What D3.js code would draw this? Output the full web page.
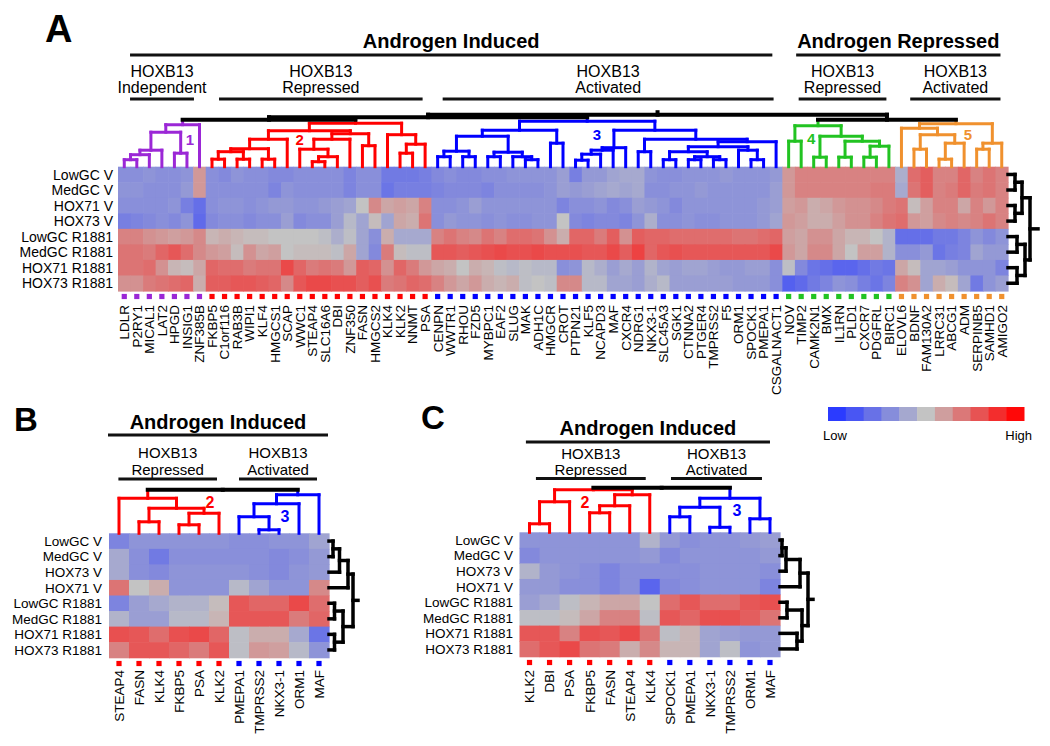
<!DOCTYPE html>
<html>
<head>
<meta charset="utf-8">
<script src="https://cdn.jsdelivr.net/npm/d3@7/dist/d3.min.js"></script>
<style>
html,body{margin:0;padding:0;background:#fff;}
svg{display:block;}
text{font-family:"Liberation Sans",Arial,Helvetica,sans-serif;fill:#000;}
</style>
</head>
<body>
<svg id="chart" width="1050" height="746"></svg>
<script>
// ================= DATA =================
const samplesA = ["LowGC V","MedGC V","HOX71 V","HOX73 V","LowGC R1881","MedGC R1881","HOX71 R1881","HOX73 R1881"];
const samplesBC = ["LowGC V","MedGC V","HOX73 V","HOX71 V","LowGC R1881","MedGC R1881","HOX71 R1881","HOX73 R1881"];

const genesA = ["LDLR","P2RY1","MICAL1","LAT2","HPGD","INSIG1","ZNF385B",
  "FKBP5","C1orf116","RAB3B","WIPI1","KLF4","HMGCS1","SCAP","WWC1","STEAP4","SLC16A6","DBI","ZNF350","FASN","HMGCS2","KLK4","KLK2","NNMT","PSA",
  "CENPN","WWTR1","RHOU","FZD5","MYBPC1","EAF2","SLUG","MAK","ADH1C","HMGCR","CROT","PTPN21","KLF5","NCAPD3","MAF","CXCR4","NDRG1","NKX3-1","SLC45A3","SGK1","CTNNA2","PTGER4","TMPRSS2","F5","ORM1","SPOCK1","PMEPA1","CSGALNACT1",
  "NOV","TIMP2","CAMK2N1","BMX","IL1RN","PLD1","CXCR7","PDGFRL","BIRC1",
  "ELOVL6","BDNF","FAM130A2","LRRC31","ABCG1","ADM","SERPINB5","SAMHD1","AMIGO2"];
const clusterSizesA = [7,18,28,9,9];
const clusterColors = ["#9b27d6","#ff0000","#0000ff","#22c322","#f0912e"];

// expression (row-scaled) per sample row, columns in genesA order
const valA0 = [-0.5,-0.5,-0.45,-0.5,-0.5,-0.45,0.3,
  -0.5,-0.55,-0.45,-0.5,-0.5,-0.55,-0.55,-0.5,-0.5,-0.5,-0.5,-0.6,-0.5,-0.5,-0.7,-0.7,-0.7,-0.65,
  -0.55,-0.5,-0.55,-0.55,-0.5,-0.5,-0.45,-0.45,-0.45,-0.45,-0.35,-0.65,-0.4,-0.4,-0.3,-0.25,-0.25,-0.45,-0.5,-0.5,-0.45,-0.45,-0.45,-0.4,-0.45,-0.45,-0.45,-0.4,
  0.3,0.45,0.45,0.45,0.45,0.45,0.45,0.45,0.45,
  -0.2,0.6,0.7,0.45,0.45,0.65,0.45,0.55,0.45];
const valA1 = [-0.45,-0.45,-0.5,-0.5,-0.5,-0.4,0.3,
  -0.5,-0.5,-0.5,-0.5,-0.5,-0.6,-0.45,-0.5,-0.5,-0.5,-0.5,-0.6,-0.5,-0.5,-0.75,-0.65,-0.65,-0.65,
  -0.6,-0.55,-0.55,-0.55,-0.6,-0.5,-0.5,-0.5,-0.5,-0.45,-0.35,-0.4,-0.35,-0.3,-0.25,-0.3,-0.25,-0.5,-0.5,-0.45,-0.45,-0.4,-0.45,-0.45,-0.45,-0.45,-0.45,-0.35,
  0.3,0.45,0.45,0.45,0.45,0.45,0.45,0.5,0.5,
  -0.25,0.55,0.7,0.45,0.5,0.65,0.5,0.55,0.45];
const valA2 = [-0.5,-0.5,-0.5,-0.5,-0.45,-0.65,-0.8,
  -0.5,-0.45,-0.45,-0.5,-0.45,-0.4,-0.4,-0.45,-0.45,-0.4,-0.35,-0.3,0.0,0.4,0.2,0.25,0.2,0.45,
  -0.5,-0.5,-0.45,-0.35,-0.45,-0.45,-0.45,-0.45,-0.45,-0.45,-0.6,-0.5,-0.5,-0.45,-0.55,-0.5,-0.35,-0.4,-0.45,-0.55,-0.45,-0.45,-0.45,-0.45,-0.45,-0.45,-0.4,-0.35,
  0.25,0.3,0.15,0.2,0.3,0.35,0.35,0.4,0.5,
  0.55,0.05,0.25,0.45,0.45,0.2,0.45,0.3,0.45];
const valA3 = [-0.65,-0.6,-0.55,-0.5,-0.55,-0.45,-0.85,
  -0.55,-0.5,-0.5,-0.55,-0.5,-0.5,-0.35,-0.55,-0.5,-0.5,-0.35,-0.1,-0.3,0.05,-0.3,0.2,0.15,0.55,
  -0.5,-0.4,-0.45,-0.45,-0.5,-0.45,-0.5,-0.5,-0.45,-0.45,0.0,-0.55,-0.6,-0.55,-0.55,-0.6,-0.45,-0.2,-0.5,-0.5,-0.45,-0.5,-0.5,-0.45,-0.45,-0.45,-0.4,-0.3,
  0.3,0.25,0.15,0.15,0.25,0.35,0.35,0.45,0.55,
  0.6,0.3,0.25,0.4,0.45,0.4,0.45,0.55,0.45];
const valA4 = [0.45,0.45,0.35,0.3,0.25,0.3,0.4,
  0.1,0.15,0.1,0.05,0.05,0.0,0.0,0.0,0.0,-0.05,-0.2,-0.05,-0.3,-0.5,0.15,-0.25,-0.25,-0.25,
  0.45,0.55,0.45,0.4,0.55,0.45,0.6,0.6,0.55,0.35,0.15,0.65,0.65,0.5,0.7,0.35,0.7,0.65,0.65,0.6,0.6,0.6,0.6,0.6,0.55,0.55,0.6,0.65,
  0.25,0.2,0.35,0.35,0.2,0.1,0.1,0.0,-0.15,
  -0.8,-0.8,-0.8,-0.7,-0.7,-0.6,-0.45,-0.55,-0.45];
const valA5 = [0.55,0.55,0.5,0.65,0.75,0.6,0.4,
  0.3,0.25,0.05,0.35,0.2,0.25,0.0,0.05,0.05,0.05,-0.05,0.2,-0.3,-0.55,0.5,0.05,-0.05,-0.05,
  0.75,0.75,0.7,0.75,0.8,0.85,0.8,0.8,0.85,0.8,0.8,0.8,0.75,0.75,0.85,0.7,0.9,0.65,0.75,0.8,0.75,0.75,0.75,0.75,0.75,0.75,0.75,0.85,
  0.3,0.2,0.4,0.4,0.2,0.0,0.25,0.25,-0.15,
  -0.5,-0.5,-0.4,-0.75,-0.65,-0.6,-0.3,-0.4,-0.4];
const valA6 = [0.55,0.55,0.6,0.35,0.1,0.05,0.2,
  0.65,0.6,0.6,0.5,0.55,0.55,0.85,0.65,0.5,0.55,0.5,0.3,0.7,0.65,0.35,0.65,0.5,0.3,
  0.2,0.15,0.0,0.15,0.1,-0.05,-0.1,-0.05,-0.1,-0.1,-0.5,-0.45,-0.1,-0.2,-0.35,-0.25,-0.35,-0.15,-0.3,-0.35,-0.3,-0.3,-0.35,-0.4,-0.4,-0.35,-0.35,-0.5,
  -0.05,-0.55,-0.75,-0.8,-0.9,-0.9,-0.8,-0.7,-0.75,
  0.2,0.05,-0.3,-0.3,-0.35,-0.45,-0.45,-0.45,-0.6];
const valA7 = [0.35,0.35,0.5,0.55,0.6,0.65,0.15,
  0.7,0.7,0.75,0.75,0.7,0.65,0.4,0.75,0.85,0.85,0.8,0.8,0.7,0.8,0.5,0.55,0.65,0.6,
  0.45,0.3,0.2,0.3,0.15,0.1,0.15,-0.05,0.0,-0.05,0.4,0.4,-0.1,-0.1,-0.3,-0.3,-0.35,-0.2,-0.1,-0.35,-0.35,-0.35,-0.35,-0.35,-0.4,-0.4,-0.4,-0.5,
  -0.95,-0.85,-0.7,-0.6,-0.45,-0.5,-0.65,-0.75,-0.6,
  0.45,0.35,-0.3,0.15,0.05,-0.3,-0.7,-0.45,-0.35];

// Panel A gene dendrogram (node = [mergeHeight, left, right], leaf = column index)
const treeA1 = [0.84, [0.69, [0.33, [0.24, [0.14, 0, 1], 2], 3], [0.27, 4, 5]], 6];
const treeA2 = [0.87,
  [0.72, [0.55, [0.36, [0.3, [0.15, 7, 8], [0.15, 9, 10]], [0.15, 11, 12]], 13],
         [0.66, [0.55, [0.35, 14, [0.2, [0.1, 15, 16], 17]], 18], [0.42, 19, 20]]],
  [0.64, 21, [0.45, [0.27, 22, 23], 24]]];
const treeA3 = [0.91,
  [0.73, [0.61, [0.31, [0.2, 25, 26], [0.2, 27, 28]], [0.29, [0.2, 29, 30], [0.2, 31, [0.14, 32, 33]]]], [0.47, 34, 35]],
  [0.73, [0.38, [0.33, [0.25, [0.13, 36, 37], 38], 39], 40],
         [0.55, [0.3, 41, 42], [0.5, [0.4, [0.3, [0.14, 43, 44], [0.2, [0.14, 45, 46], [0.14, 47, 48]]], [0.33, 49, [0.14, 50, 51]]], 52]]]];
const treeA4 = [0.82, [0.51, 53, 54], [0.61, [0.19, 55, 56], [0.51, [0.19, 57, 58], [0.41, [0.19, 59, 60], 61]]]];
const treeA5 = [0.86, [0.77, 62, [0.64, [0.35, 63, 64], [0.47, [0.15, 65, 66], 67]]], [0.47, [0.35, 68, 69], 70]];
const treeA = [1.04, [0.99, [0.94, treeA1, treeA2], treeA3], [0.94, treeA4, treeA5]];
const rowTreeA = [0.44, [0.28, [0.14, 0, 1], [0.14, 2, 3]], [0.34, [0.18, 4, 5], [0.18, 6, 7]]];

// Panel A headers: [text, fromColumn, toColumn]
const headA = [["Androgen Induced", 0.96, 52.2], ["Androgen Repressed", 54.1, 70.4]];
const subA = [["HOXB13","Independent",0.96,6.06],["HOXB13","Repressed",8.06,24.3],["HOXB13","Activated",25.9,52.3],
  ["HOXB13","Repressed",54.3,61.3],["HOXB13","Activated",63.2,70.4]];
const numA = [["1",5.74,0.44,0],["2",14.5,0.44,1],["3",38.2,0.53,2],["4",55.3,0.46,3],["5",67.8,0.54,4]];

// Panel B
const genesB = ["STEAP4","FASN","KLK4","FKBP5","PSA","KLK2","PMEPA1","TMPRSS2","NKX3-1","ORM1","MAF"];
const clusterB = [1,1,1,1,1,1,2,2,2,2,2];
const valB0 = [-0.6,-0.45,-0.45,-0.45,-0.45,-0.45,-0.5,-0.5,-0.45,-0.45,-0.3];
const valB1 = [-0.25,-0.5,-0.7,-0.5,-0.5,-0.5,-0.5,-0.5,-0.55,-0.5,-0.4];
const valB2 = [-0.25,-0.5,-0.55,-0.45,-0.45,-0.45,-0.45,-0.5,-0.55,-0.45,-0.4];
const valB3 = [0.55,0.0,0.15,-0.45,-0.45,-0.45,-0.1,-0.3,-0.45,-0.45,0.4];
const valB4 = [-0.6,-0.35,-0.25,-0.15,-0.15,0.05,0.75,0.65,0.65,0.85,0.6];
const valB5 = [-0.15,-0.35,-0.35,-0.1,-0.1,0.1,0.75,0.75,0.75,0.5,0.65];
const valB6 = [0.8,0.75,0.6,0.8,0.85,0.65,-0.05,0.15,0.15,-0.25,-0.75];
const valB7 = [0.45,0.75,0.75,0.65,0.5,0.75,-0.05,0.3,0.25,-0.1,-0.45];
const treeB = [0.87, [0.7, 0, [0.5, [0.23, 1, 2], [0.4, [0.17, 3, 4], 5]]], [0.77, [0.59, [0.33, 6, [0.07, 7, 8]], 9], 10]];
const rowTreeB = [0.48, [0.38, [0.21, [0.08, 0, 1], 2], 3], [0.28, [0.11, 4, 5], [0.11, 6, 7]]];
const headB = [["Androgen Induced", -0.05, 10.95]];
const subB = [["HOXB13","Repressed",0.47,5.4],["HOXB13","Activated",6.5,10.4]];
const numB = [["2",5.05,0.5,1],["3",8.8,0.23,2]];

// Panel C
const genesC = ["KLK2","DBI","PSA","FKBP5","FASN","STEAP4","KLK4","SPOCK1","PMEPA1","NKX3-1","TMPRSS2","ORM1","MAF"];
const clusterC = [1,1,1,1,1,1,1,2,2,2,2,2,2];
const valC0 = [-0.45,-0.45,-0.45,-0.45,-0.45,-0.45,-0.15,-0.4,-0.5,-0.45,-0.45,-0.4,-0.35];
const valC1 = [-0.55,-0.45,-0.45,-0.45,-0.45,-0.45,-0.4,-0.55,-0.45,-0.45,-0.45,-0.45,-0.4];
const valC2 = [-0.15,-0.4,-0.45,-0.5,-0.6,-0.5,-0.5,-0.5,-0.5,-0.45,-0.45,-0.45,-0.5];
const valC3 = [-0.4,-0.4,-0.5,-0.5,-0.6,-0.5,-0.9,-0.55,-0.5,-0.45,-0.45,-0.45,-0.6];
const valC4 = [-0.35,-0.25,-0.05,0.1,0.2,0.2,0.0,0.6,0.75,0.6,0.6,0.75,0.8];
const valC5 = [-0.05,-0.05,0.05,0.2,0.45,0.45,-0.05,0.75,0.65,0.8,0.8,0.7,0.55];
const valC6 = [0.75,0.75,0.45,0.8,0.75,0.85,0.55,-0.05,0.1,-0.3,-0.35,-0.4,-0.4];
const valC7 = [0.6,0.75,0.85,0.55,0.5,0.15,0.4,0.1,0.1,-0.3,-0.05,-0.45,-0.4];
const treeC = [0.89, [0.85, [0.61, [0.17, 0, 1], 2], [0.75, [0.53, [0.39, 3, 4], 5], 6]], [0.68, [0.5, [0.31, 7, 8], [0.1, 9, 10]], [0.27, 11, 12]]];
const rowTreeC = [0.56, [0.4, [0.12, [0.04, 0, 1], 2], 3], [0.44, [0.14, 4, 5], [0.34, 6, 7]]];
const headC = [["Androgen Induced", 0.32, 12.5]];
const subC = [["HOXB13","Repressed",0.82,6.3],["HOXB13","Activated",7.56,12.1]];
const numC = [["2",3.27,0.49,1],["3",10.85,0.33,2]];

// Legend
const legendSteps = [-1.3,-1.04,-0.78,-0.52,-0.26,0,0.26,0.52,0.78,1.04,1.3];
const legendLabels = ["Low","High"];

// ================= DRAW =================
const svg = d3.select("#chart");
const color = d3.scaleLinear().domain([-1.3, 0, 1.3]).range(["#2b3bff", "#c3c3c3", "#ff0808"]).clamp(true);

const clusterA = [];
clusterSizesA.forEach((n, k) => { for (let i = 0; i < n; i++) clusterA.push(k); });

function layout(node, pos, cl) {
  if (typeof node === "number") return {p: pos(node), h: 0, c: cl ? cl[node] : -1};
  const a = layout(node[1], pos, cl), b = layout(node[2], pos, cl);
  return {p: (a.p + b.p) / 2, h: node[0], c: (a.c === b.c) ? a.c : -1, kids: [a, b]};
}
function segments(n, out) {
  if (!n.kids) return out;
  const [a, b] = n.kids;
  out.push({p1: a.p, p2: b.p, h1: n.h, h2: n.h, c: n.c});
  n.kids.forEach(k => { out.push({p1: k.p, p2: k.p, h1: k.h, h2: n.h, c: k.c}); segments(k, out); });
  return out;
}

function drawPanel(P) {
  const g = svg.append("g");
  const nC = P.genes.length, nR = P.samples.length;
  const x = d3.scaleBand().domain(d3.range(nC)).range([P.x0, P.x1]);
  const y = d3.scaleBand().domain(d3.range(nR)).range([P.y0, P.y1]);
  const col = d3.scaleLinear().domain([0, nC]).range([P.x0, P.x1]);
  const hY = d3.scaleLinear().domain([0, 1]).range([P.y0, P.y0 - 50]);
  const hX = d3.scaleLinear().domain([0, 1]).range([P.x1, P.x1 + 50]);
  const bw = x.bandwidth(), bh = y.bandwidth();

  // heatmap cells
  const cells = [];
  P.values.forEach((row, i) => row.forEach((v, j) => cells.push({i, j, v})));
  g.append("g").selectAll("rect").data(cells).join("rect")
    .attr("x", d => x(d.j)).attr("y", d => y(d.i))
    .attr("width", bw + 0.6).attr("height", bh + 0.6)
    .attr("fill", d => color(d.v));

  // row labels
  g.append("g").selectAll("text").data(P.samples).join("text")
    .attr("x", P.rowLabelX).attr("y", (d, i) => y(i) + bh / 2)
    .attr("dy", "0.36em").attr("text-anchor", "end")
    .attr("font-size", P.rowFont).text(d => d);

  // cluster markers
  g.append("g").selectAll("rect").data(P.genes).join("rect")
    .attr("x", (d, j) => x(j) + bw / 2 - 2.6).attr("y", P.markerY - 2.6)
    .attr("width", 5.2).attr("height", 5.2)
    .attr("fill", (d, j) => clusterColors[P.clusters[j]]);

  // gene labels
  g.append("g").selectAll("text").data(P.genes).join("text")
    .attr("transform", (d, j) => `translate(${x(j) + bw / 2},${P.labelTop}) rotate(-90)`)
    .attr("dy", "0.36em").attr("text-anchor", "end")
    .attr("font-size", P.geneFont).text(d => d);

  // column dendrogram
  const root = layout(P.tree, j => x(j) + bw / 2, P.clusters);
  const segs = segments(root, []);
  segs.push({p1: root.p, p2: root.p, h1: root.h, h2: root.h + P.stub, c: root.c});
  const dg = g.append("g").attr("fill", "none").attr("stroke-linecap", "square");
  dg.selectAll("line.col").data(segs.filter(s => s.c >= 0)).join("line").attr("class", "col")
    .attr("x1", d => d.p1).attr("x2", d => d.p2).attr("y1", d => hY(d.h1)).attr("y2", d => hY(d.h2))
    .attr("stroke", d => clusterColors[d.c]).attr("stroke-width", 3);
  dg.selectAll("line.blk").data(segs.filter(s => s.c < 0)).join("line").attr("class", "blk")
    .attr("x1", d => d.p1).attr("x2", d => d.p2).attr("y1", d => hY(d.h1)).attr("y2", d => hY(d.h2))
    .attr("stroke", "#000").attr("stroke-width", 4);

  // row dendrogram
  const rroot = layout(P.rowTree, i => y(i) + bh / 2, null);
  const rsegs = segments(rroot, []);
  rsegs.push({p1: rroot.p, p2: rroot.p, h1: rroot.h, h2: rroot.h + P.rowStub, c: -1});
  g.append("g").attr("stroke-linecap", "square").selectAll("line").data(rsegs).join("line")
    .attr("y1", d => d.p1).attr("y2", d => d.p2).attr("x1", d => hX(d.h1)).attr("x2", d => hX(d.h2))
    .attr("stroke", "#000").attr("stroke-width", 3.5);

  // cluster numbers
  g.append("g").selectAll("text").data(P.nums).join("text")
    .attr("x", d => col(d[1])).attr("y", d => hY(d[2]))
    .attr("text-anchor", "middle").attr("font-weight", "bold").attr("font-size", P.numFont)
    .style("fill", d => clusterColors[d[3]]).text(d => d[0]);

  // headers
  const hg = g.append("g");
  hg.selectAll("text.t").data(P.head).join("text").attr("class", "t")
    .attr("x", d => (col(d[1]) + col(d[2])) / 2).attr("y", P.titleY)
    .attr("text-anchor", "middle").attr("font-weight", "bold").attr("font-size", 20).text(d => d[0]);
  hg.selectAll("line.t").data(P.head).join("line").attr("class", "t")
    .attr("x1", d => col(d[1])).attr("x2", d => col(d[2])).attr("y1", P.titleLineY).attr("y2", P.titleLineY)
    .attr("stroke", "#111").attr("stroke-width", 3);
  hg.selectAll("text.s1").data(P.sub).join("text").attr("class", "s1")
    .attr("x", d => (col(d[2]) + col(d[3])) / 2).attr("y", P.sub1Y)
    .attr("text-anchor", "middle").attr("font-size", P.subFont).text(d => d[0]);
  hg.selectAll("text.s2").data(P.sub).join("text").attr("class", "s2")
    .attr("x", d => (col(d[2]) + col(d[3])) / 2).attr("y", P.sub2Y)
    .attr("text-anchor", "middle").attr("font-size", P.subFont).text(d => d[1]);
  hg.selectAll("line.s").data(P.sub).join("line").attr("class", "s")
    .attr("x1", d => col(d[2])).attr("x2", d => col(d[3])).attr("y1", P.subLineY).attr("y2", P.subLineY)
    .attr("stroke", "#111").attr("stroke-width", 3);

  // panel letter
  g.append("text").attr("x", P.letterX).attr("y", P.letterY)
    .attr("font-weight", "bold").attr("font-size", P.letterFont).text(P.letter);
}

drawPanel({
  letter: "A", letterX: 45, letterY: 42, letterFont: 38,
  genes: genesA, samples: samplesA, clusters: clusterA,
  values: [valA0, valA1, valA2, valA3, valA4, valA5, valA6, valA7],
  tree: treeA, rowTree: rowTreeA, stub: 0.05, rowStub: 0.16,
  x0: 118, x1: 1008, y0: 166.7, y1: 291,
  rowLabelX: 113, rowFont: 14, geneFont: 13.5, markerY: 296.5, labelTop: 305,
  head: headA, sub: subA, nums: numA, numFont: 15, subFont: 16,
  titleY: 48, titleLineY: 55, sub1Y: 77, sub2Y: 93, subLineY: 99
});
drawPanel({
  letter: "B", letterX: 14, letterY: 431, letterFont: 33,
  genes: genesB, samples: samplesBC, clusters: clusterB,
  values: [valB0, valB1, valB2, valB3, valB4, valB5, valB6, valB7],
  tree: treeB, rowTree: rowTreeB, stub: 0, rowStub: 0.1,
  x0: 109, x1: 329, y0: 533.3, y1: 657.7,
  rowLabelX: 102, rowFont: 13.5, geneFont: 13.5, markerY: 663.5, labelTop: 670,
  head: headB, sub: subB, nums: numB, numFont: 16, subFont: 15,
  titleY: 428.5, titleLineY: 435, sub1Y: 458, sub2Y: 474.5, subLineY: 479
});
drawPanel({
  letter: "C", letterX: 421, letterY: 429, letterFont: 33,
  genes: genesC, samples: samplesBC, clusters: clusterC,
  values: [valC0, valC1, valC2, valC3, valC4, valC5, valC6, valC7],
  tree: treeC, rowTree: rowTreeC, stub: 0, rowStub: 0.1,
  x0: 519.5, x1: 780, y0: 532.3, y1: 656.7,
  rowLabelX: 513, rowFont: 13.5, geneFont: 13.5, markerY: 662.5, labelTop: 670,
  head: headC, sub: subC, nums: numC, numFont: 16, subFont: 15,
  titleY: 435, titleLineY: 442, sub1Y: 458.5, sub2Y: 474.5, subLineY: 478.5
});

// legend
const lx = d3.scaleBand().domain(d3.range(legendSteps.length)).range([828, 1024]);
const lg = svg.append("g");
lg.selectAll("rect").data(legendSteps).join("rect")
  .attr("x", (d, i) => lx(i)).attr("y", 407).attr("width", lx.bandwidth() + 0.5).attr("height", 14)
  .attr("fill", d => color(d));
lg.append("text").attr("x", 823).attr("y", 440).attr("font-size", 13).text(legendLabels[0]);
lg.append("text").attr("x", 1032).attr("y", 440).attr("font-size", 13).attr("text-anchor", "end").text(legendLabels[1]);
</script>
</body>
</html>
